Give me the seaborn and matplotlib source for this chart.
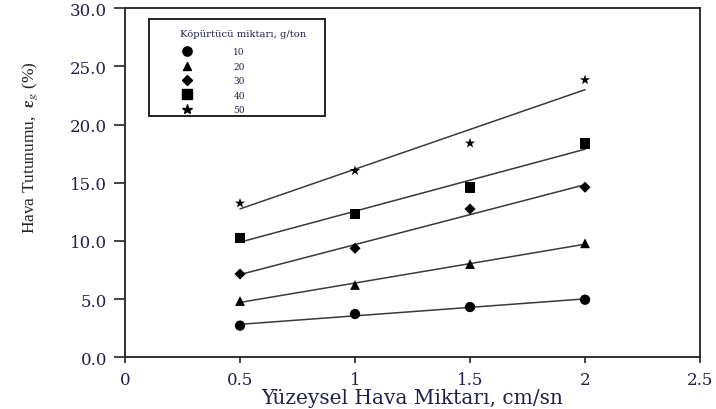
import matplotlib
matplotlib.use("Agg")
import matplotlib.pyplot as plt
import seaborn as sns
import pandas as pd
from matplotlib.lines import Line2D
from matplotlib.patches import Rectangle

sns.set_theme(style="white")
plt.rcParams['font.family'] = ['DejaVu Serif', 'Liberation Serif']
plt.rcParams['mathtext.fontset'] = 'stix'

# Data
x_vals = [0.5, 1.0, 1.5, 2.0]
dose_labels = ["10", "20", "30", "40", "50"]
eps_10 = [2.72, 3.72, 4.32, 4.95]
eps_20 = [4.84, 6.22, 8.02, 9.80]
eps_30 = [7.16, 9.37, 12.75, 14.62]
eps_40 = [10.26, 12.32, 14.62, 18.37]
eps_50 = [13.24, 16.04, 18.40, 23.84]
series = [eps_10, eps_20, eps_30, eps_40, eps_50]
markers = ["o", "^", "D", "s", "*"]
msizes = [55, 50, 32, 60, 60]

x_ticks = [0, 0.5, 1, 1.5, 2, 2.5]
x_ticklabels = ["0", "0.5", "1", "1.5", "2", "2.5"]
y_ticks = [0, 5, 10, 15, 20, 25, 30]
y_ticklabels = ["0.0", "5.0", "10.0", "15.0", "20.0", "25.0", "30.0"]

fig = plt.figure(figsize=(7.16, 4.10), dpi=100)
ax = fig.add_axes([0.1746, 0.1261, 0.8031, 0.8512])

text_col = "#20204a"
handles = []
for lab, ys, mk, ms in zip(dose_labels, series, markers, msizes):
    df = pd.DataFrame({"x": x_vals, "y": ys})
    sns.regplot(data=df, x="x", y="y", ax=ax, ci=None, marker=mk,
                scatter_kws={"s": ms, "color": "black", "edgecolors": "none",
                             "alpha": 1, "zorder": 3},
                line_kws={"color": "#3a3a3a", "lw": 1.1})
    handles.append(Line2D([], [], marker=mk, color="black", ls="none",
                          markersize=(ms ** 0.5) * 0.9, label=lab))

ax.set_xlim(0, 2.5)
ax.set_ylim(0, 30)
ax.set_xticks(x_ticks)
ax.set_xticklabels(x_ticklabels)
ax.set_yticks(y_ticks)
ax.set_yticklabels(y_ticklabels)
ax.tick_params(axis="y", direction="out", length=8, width=1.2, labelsize=12,
               labelcolor=text_col, left=True, pad=5)
ax.tick_params(axis="x", direction="out", length=4, width=1.2, labelsize=12,
               labelcolor=text_col, bottom=True, pad=6)
for s in ax.spines.values():
    s.set_visible(True)
    s.set_color("#222222")
    s.set_linewidth(1.3)

ax.set_xlabel("Yüzeysel Hava Miktarı, cm/sn", fontsize=14.5, color=text_col, labelpad=0)
ax.set_ylabel(r"Hava Tutunumu,  $\mathbf{\varepsilon}_{g}$ (%)", fontsize=12.5,
              color="#222222", family="Liberation Serif")
ax.yaxis.set_label_coords(-0.148, 0.605)

# legend frame
ax.add_patch(Rectangle((0.042, 0.691), 0.306, 0.278, transform=ax.transAxes,
                       fill=True, facecolor="white", edgecolor="#222222",
                       lw=1.4, zorder=4))
ax.text(0.0957, 0.929, "Köpürtücü miktarı, g/ton", transform=ax.transAxes,
        fontsize=7.2, color=text_col, ha="left", va="center", zorder=6)
leg = ax.legend(handles=handles, loc="upper left",
                bbox_to_anchor=(0.0957, 0.888), frameon=False,
                fontsize=6.5, handletextpad=4.3, labelspacing=0.6,
                borderpad=0, handlelength=1.6, borderaxespad=0)
leg.set_zorder(5)
for t in leg.get_texts():
    t.set_color(text_col)

fig.savefig("out.png", dpi=100)
